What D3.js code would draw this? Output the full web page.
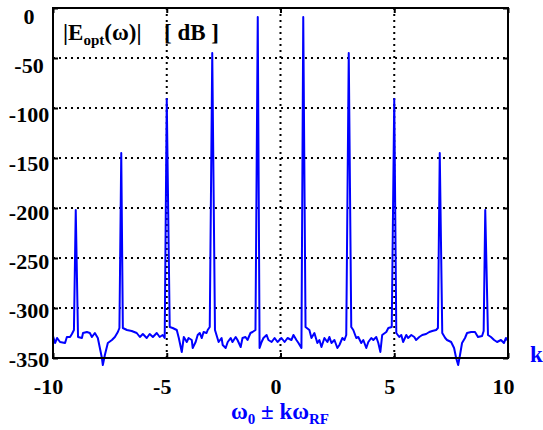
<!DOCTYPE html>
<html>
<head>
<meta charset="utf-8">
<script src="https://cdn.jsdelivr.net/npm/d3@7"></script>
<style>
  body { margin: 0; background: #fff; }
  text { font-family: "Liberation Serif", "Times New Roman", serif; font-weight: bold; }
</style>
</head>
<body>
<svg id="chart"></svg>
<script>
var width = 543;
var height = 430;
var margin = { top: 8, right: 34, bottom: 72, left: 53 };

// sideband spectrum: k (in units of omega_RF) and level in dB
var kValues = [
  -10.00, -9.91, -9.82, -9.69, -9.47, -9.39, -9.25, -9.17, -9.08, -9.00,
  -8.90, -8.73, -8.68, -8.51, -8.38, -8.29, -8.16, -8.03, -7.94, -7.85,
  -7.81, -7.72, -7.59, -7.41, -7.28, -7.15, -7.08, -7.00, -6.93, -6.75,
  -6.54, -6.32, -6.18, -6.05, -5.88, -5.75, -5.61, -5.44, -5.31, -5.18,
  -5.09, -5.00, -4.87, -4.74, -4.56, -4.47, -4.34, -4.25, -4.12, -4.04,
  -3.90, -3.86, -3.73, -3.64, -3.55, -3.46, -3.38, -3.25, -3.20, -3.11,
  -3.00, -2.88, -2.72, -2.59, -2.54, -2.41, -2.32, -2.19, -2.11, -1.97,
  -1.89, -1.75, -1.67, -1.54, -1.45, -1.32, -1.23, -1.10, -1.00, -0.92,
  -0.83, -0.75, -0.61, -0.53, -0.39, -0.26, -0.13, 0.04, 0.18, 0.31,
  0.48, 0.57, 0.70, 0.79, 0.92, 1.00, 1.10, 1.27, 1.36, 1.49,
  1.62, 1.71, 1.80, 1.93, 2.06, 2.15, 2.24, 2.37, 2.50, 2.59,
  2.72, 2.81, 2.89, 3.00, 3.11, 3.20, 3.33, 3.42, 3.55, 3.64,
  3.77, 3.86, 3.99, 4.08, 4.21, 4.30, 4.39, 4.47, 4.65, 4.74,
  4.89, 5.00, 5.09, 5.22, 5.31, 5.39, 5.53, 5.61, 5.75, 5.88,
  5.96, 6.10, 6.23, 6.40, 6.54, 6.67, 6.84, 6.92, 7.00, 7.11,
  7.24, 7.32, 7.50, 7.63, 7.72, 7.81, 7.89, 7.98, 8.11, 8.20,
  8.38, 8.55, 8.68, 8.86, 8.93, 9.00, 9.12, 9.25, 9.39, 9.52,
  9.69, 9.82, 9.91, 10.00
];

var levelDb = [
  -328, -335, -330, -334, -335, -329, -329, -326, -322, -202,
  -329, -330, -325, -324, -325, -329, -325, -330, -340, -350,
  -357, -347, -335, -332, -329, -324, -320, -145, -320, -322,
  -323, -325, -329, -326, -330, -326, -329, -325, -329, -327,
  -330, -91, -319, -320, -322, -330, -344, -329, -334, -330,
  -332, -340, -334, -327, -325, -330, -324, -325, -322, -319,
  -45, -322, -334, -330, -337, -340, -334, -330, -334, -329,
  -332, -339, -330, -329, -332, -325, -324, -322, -9, -340,
  -334, -330, -327, -332, -334, -330, -334, -330, -334, -330,
  -332, -327, -332, -335, -340, -9, -319, -322, -330, -325,
  -335, -332, -339, -330, -334, -329, -335, -332, -340, -337,
  -330, -332, -327, -45, -319, -322, -330, -329, -335, -332,
  -340, -334, -330, -332, -329, -335, -344, -327, -324, -320,
  -319, -91, -325, -329, -327, -334, -327, -330, -327, -329,
  -332, -329, -327, -326, -324, -323, -322, -320, -145, -325,
  -330, -332, -334, -340, -350, -357, -347, -335, -330, -325,
  -324, -324, -329, -328, -323, -202, -327, -329, -332, -334,
  -332, -335, -330, -333
];

var xTicks = [-10, -5, 0, 5, 10];
var yTicks = [0, -50, -100, -150, -200, -250, -300, -350];
var xGrid = [-5, 0, 5];
var yGrid = [-50, -100, -150, -200, -250, -300];

var spectrum = kValues.map(function(k, i) { return { k: k, db: levelDb[i] }; });

var xScale = d3.scaleLinear().domain([-10, 10]).range([margin.left, width - margin.right - 1]);
var yScale = d3.scaleLinear().domain([-350, 0]).range([height - margin.bottom, margin.top]);

var svg = d3.select("#chart")
            .attr("width", width)
            .attr("height", height);

// dotted grid
svg.append("g")
    .selectAll("line")
    .data(yGrid)
    .enter().append("line")
      .attr("x1", xScale(-10))
      .attr("x2", xScale(10))
      .attr("y1", function(d) { return yScale(d); })
      .attr("y2", function(d) { return yScale(d); })
      .attr("stroke", "#000")
      .attr("stroke-width", 2)
      .attr("stroke-dasharray", "2,4");

svg.append("g")
    .selectAll("line")
    .data(xGrid)
    .enter().append("line")
      .attr("x1", function(d) { return xScale(d); })
      .attr("x2", function(d) { return xScale(d); })
      .attr("y1", yScale(0))
      .attr("y2", yScale(-350))
      .attr("stroke", "#000")
      .attr("stroke-width", 2)
      .attr("stroke-dasharray", "2,4");

// spectrum trace
var line = d3.line()
             .x(function(d) { return xScale(d.k); })
             .y(function(d) { return yScale(d.db); });

svg.append("path")
    .datum(spectrum)
    .attr("d", line)
    .attr("fill", "none")
    .attr("stroke", "#0000ff")
    .attr("stroke-width", 2)
    .attr("stroke-linejoin", "round");

// frame
svg.append("rect")
    .attr("x", xScale(-10))
    .attr("y", yScale(0))
    .attr("width", xScale(10) - xScale(-10))
    .attr("height", yScale(-350) - yScale(0))
    .attr("fill", "none")
    .attr("stroke", "#000")
    .attr("stroke-width", 2);

// axes with inward ticks
var plain = function(d) { return String(d); };

var leftAxis = svg.append("g")
    .attr("transform", "translate(" + xScale(-10) + ",0)")
    .call(d3.axisLeft(yScale).tickValues(yTicks).tickSize(-5).tickFormat(plain));

leftAxis.selectAll(".tick text")
    .attr("x", -24)
    .attr("text-anchor", "middle")
    .attr("dy", function(d) { return (0.32 * 22 + 8 + d / 350 * 7) + "px"; });

svg.append("g")
    .attr("transform", "translate(" + xScale(10) + ",0)")
    .call(d3.axisRight(yScale).tickValues(yTicks).tickSize(-5).tickFormat(""));

var bottomAxis = svg.append("g")
    .attr("transform", "translate(0," + yScale(-350) + ")")
    .call(d3.axisBottom(xScale).tickValues(xTicks).tickSize(-5).tickPadding(20).tickFormat(plain));

bottomAxis.selectAll(".tick text").attr("dx", -5);

svg.append("g")
    .attr("transform", "translate(0," + yScale(0) + ")")
    .call(d3.axisTop(xScale).tickValues(xTicks).tickSize(-5).tickFormat(""));

svg.selectAll(".domain").remove();
svg.selectAll(".tick line").attr("stroke", "#000").attr("stroke-width", 2);
svg.selectAll(".tick text")
    .attr("fill", "#000")
    .style("font-family", "'Liberation Serif', serif")
    .style("font-weight", "bold")
    .style("font-size", "22px");

// quantity label in the corner
var title = svg.append("text")
    .attr("x", 63)
    .attr("y", 40)
    .attr("fill", "#000")
    .style("font-size", "23px");
title.append("tspan").text("|E");
title.append("tspan").attr("dy", 5).style("font-size", "15px").text("opt");
title.append("tspan").attr("dy", -5).text("(ω)|");

svg.append("text")
    .attr("x", 164)
    .attr("y", 40)
    .attr("fill", "#000")
    .style("font-size", "23px")
    .text("[ dB ]");

// x axis label
var xLabel = svg.append("text")
    .attr("x", 280)
    .attr("y", 419)
    .attr("text-anchor", "middle")
    .attr("fill", "#0000ff")
    .style("font-size", "23px");
xLabel.append("tspan").text("ω");
xLabel.append("tspan").attr("dy", 5).style("font-size", "15px").text("0");
xLabel.append("tspan").attr("dy", -5).text(" ± kω");
xLabel.append("tspan").attr("dy", 5).style("font-size", "15px").text("RF");

svg.append("text")
    .attr("x", 530)
    .attr("y", 362)
    .attr("fill", "#0000ff")
    .style("font-size", "23px")
    .text("k");
</script>
</body>
</html>
